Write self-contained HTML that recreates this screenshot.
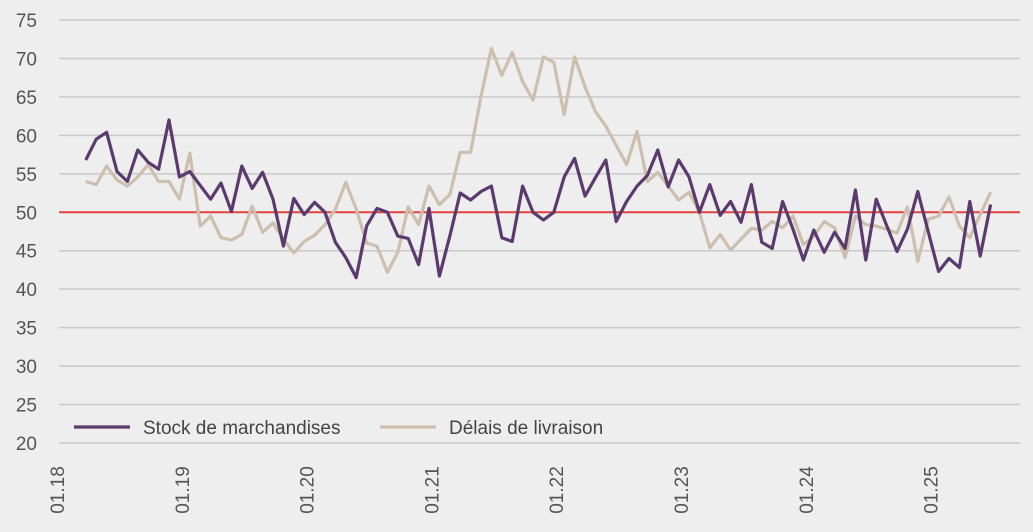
<!DOCTYPE html>
<html><head><meta charset="utf-8"><style>
html,body{margin:0;padding:0;background:#eeeeee;}
svg{display:block;font-family:"Liberation Sans",sans-serif;}
</style></head><body>
<svg id="chart" width="1033" height="532"></svg>
<script>
const startMonth = 2; // March 2018, months from Jan 2018
const stockValues = [56.8,59.5,60.4,55.3,54.0,58.1,56.5,55.6,62.0,54.6,55.3,53.5,51.7,53.8,50.1,56.0,53.1,55.2,51.7,45.6,51.8,49.7,51.3,50.0,46.1,44.1,41.5,48.2,50.5,50.0,46.9,46.6,43.2,50.5,41.7,46.9,52.5,51.6,52.7,53.4,46.7,46.2,53.4,50.0,49.0,50.0,54.6,57.0,52.1,54.5,56.8,48.8,51.4,53.4,54.8,58.1,53.3,56.8,54.6,50.0,53.6,49.6,51.4,48.7,53.6,46.1,45.3,51.4,47.8,43.8,47.7,44.8,47.4,45.3,52.9,43.8,51.7,48.3,44.9,47.8,52.7,47.5,42.3,44.0,42.8,51.4,44.3,51.0];
const delaisValues = [54.0,53.6,56.0,54.2,53.4,54.6,56.2,54.0,54.0,51.7,57.7,48.2,49.5,46.7,46.4,47.1,50.8,47.4,48.6,46.5,44.7,46.2,47.0,48.4,50.4,53.9,50.4,46.0,45.6,42.2,44.8,50.7,48.4,53.4,51.0,52.3,57.8,57.8,65.1,71.3,67.8,70.8,67.0,64.6,70.2,69.5,62.7,70.2,66.3,63.1,61.2,58.7,56.2,60.5,54.0,55.2,53.4,51.6,52.6,50.0,45.4,47.1,45.1,46.5,47.9,47.7,48.8,48.0,49.5,45.8,46.9,48.8,48.0,44.1,49.5,48.4,48.2,47.8,47.3,50.7,43.6,49.1,49.5,52.0,48.2,46.7,49.7,52.6];
const yTicks = [20,25,30,35,40,45,50,55,60,65,70,75];
const xTickLabels = ["01.18","01.19","01.20","01.21","01.22","01.23","01.24","01.25"];
const threshold = 50;

const NS = "http://www.w3.org/2000/svg";
const svg = document.getElementById("chart");
const X0 = 59, X1 = 1020;
function xScale(m){ return 65 + m*10.4; }
function yScale(v){ return 443 - (v-20)*(423/55); }
function mk(tag, attrs, parent){ const e=document.createElementNS(NS,tag); for(const k in attrs) e.setAttribute(k,attrs[k]); (parent||svg).appendChild(e); return e; }

const grid = mk("g",{});


yTicks.forEach(t=>{
  const y=yScale(t);
  const l=mk("line",{x1:X0,x2:X1,y1:y,y2:y,stroke:"#c9c9c9","stroke-width":1.5},grid);
  
  
  const tx=mk("text",{x:37,y:y+7,"text-anchor":"end","font-size":19,fill:"#555"});
  tx.textContent=t;
  
  
});
xTickLabels.forEach((lab,i)=>{
  const x=xScale(12*i)-8;
  const tx=mk("text",{x:0,y:0,"text-anchor":"middle","font-size":19,fill:"#555",transform:`translate(${x+7},490) rotate(-90)`});
  tx.textContent=lab;
  
  
});
const ty=yScale(threshold);
const red=mk("line",{x1:X0,x2:X1,y1:ty,y2:ty,stroke:"#e5413f","stroke-width":2});



function series(vals,color,name){
  const pts=vals.map((v,i)=>xScale(startMonth+i).toFixed(1)+","+yScale(v).toFixed(1)).join(" ");
  const p=mk("polyline",{points:pts,fill:"none",stroke:color,"stroke-width":3.2,"stroke-linejoin":"round"});
  
  
}
series(delaisValues,"#cdbfae","delais-livraison-line");
series(stockValues,"#5b3a6e","stock-marchandises-line");

const leg=mk("g",{});


[[74,"#5b3a6e","Stock de marchandises"],[380,"#cdbfae","Délais de livraison"]].forEach(([x,c,t])=>{
  const l=mk("line",{x1:x,x2:x+56,y1:427,y2:427,stroke:c,"stroke-width":3.2},leg);
  
  
  const tx=mk("text",{x:x+69,y:434,"font-size":19,fill:"#444"},leg);
  tx.textContent=t;
  
  
});
</script>
</body></html>
